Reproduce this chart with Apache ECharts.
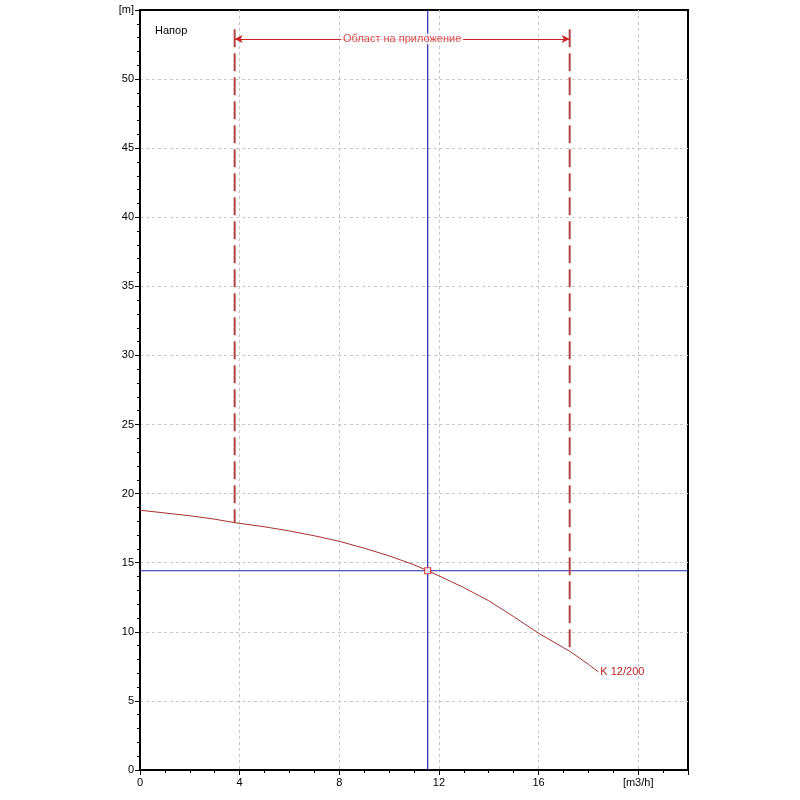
<!DOCTYPE html>
<html>
<head>
<meta charset="utf-8">
<script src="https://cdn.jsdelivr.net/npm/echarts@6/dist/echarts.min.js"></script>
<style>
    html, body {margin: 0; padding: 0; background: #fff;}
    #main {width: 800px; height: 800px;}
</style>
</head>
<body>
<div id="main"></div>
<script>
    // характеристика насоса K 12/200
    var curveQ = [0, 1, 2, 3, 3.8, 5, 6, 7, 8, 9, 10, 11, 11.55, 12, 13, 14, 15, 16, 17, 17.25, 18, 18.4];
    var curveH = [18.8, 18.6, 18.4, 18.15, 17.9, 17.6, 17.3, 16.95, 16.55, 16.05, 15.5, 14.85, 14.42, 14.05, 13.2, 12.25, 11.1, 9.9, 8.85, 8.6, 7.65, 7.1];
    // работна точка
    var workQ = 11.55;
    var workH = 14.42;
    // област на приложение
    var rangeQ = [3.8, 17.25];
    var rangeH = [17.9, 8.6];
    var rangeTop = 53.6;
    var arrowH = 52.9;
    var xTicks = [0, 4, 8, 12, 16, 20];

    var curveData = [];
    for (var i = 0; i < curveQ.length; i++) {
        curveData.push([curveQ[i], curveH[i]]);
    }

    var labelFont = 'Liberation Sans';
    var redDash = '#b04444';
    var blue = '#2626aa';

    var myChart = echarts.init(document.getElementById('main'));

    var option = {
        animation: false,
        backgroundColor: '#fff',
        title: {
            text: 'Напор',
            left: 150,
            top: 20,
            textStyle: {fontSize: 11, fontWeight: 'normal', color: '#000', fontFamily: labelFont}
        },
        grid: {
            left: 140,
            right: 112,
            top: 10,
            bottom: 30,
            show: true,
            borderColor: '#000',
            borderWidth: 2
        },
        xAxis: [
            {
                type: 'value',
                position: 'bottom',
                min: 0,
                max: 22,
                interval: 4,
                axisLine: {onZero: false, lineStyle: {color: '#000', width: 2}},
                axisTick: {length: 5, lineStyle: {color: '#000'}},
                axisLabel: {
                    color: '#000',
                    fontSize: 11,
                    fontFamily: labelFont,
                    margin: 7,
                    formatter: function (v) {
                        if (v == 20) return '[m3/h]';
                        if (xTicks.indexOf(v) < 0) return '';
                        return v;
                    }
                },
                splitLine: {show: true, showMinLine: false, showMaxLine: false, lineStyle: {color: '#c8c8c8', type: [3, 3]}}
            },
            {
                // мелки деления
                type: 'value',
                position: 'bottom',
                min: 0,
                max: 22,
                interval: 1,
                axisLine: {show: false},
                axisTick: {length: 3, lineStyle: {color: '#000'}},
                axisLabel: {show: false},
                splitLine: {show: false}
            }
        ],
        yAxis: {
            type: 'value',
            min: 0,
            max: 55,
            interval: 5,
            axisLine: {onZero: false, lineStyle: {color: '#000', width: 2}},
            axisTick: {length: 5, lineStyle: {color: '#000'}},
            minorTick: {show: true, splitNumber: 5, length: 3, lineStyle: {color: '#000'}},
            axisLabel: {
                color: '#000',
                fontSize: 11,
                fontFamily: labelFont,
                margin: 6,
                formatter: function (v) {
                    if (v == 55) return '[m]';
                    return v;
                }
            },
            splitLine: {show: true, showMinLine: false, showMaxLine: false, lineStyle: {color: '#c8c8c8', type: [3, 3]}}
        },
        series: [
            {
                // вертикала на работната точка
                type: 'line',
                showSymbol: false,
                silent: true,
                data: [[workQ, 0], [workQ, 55]],
                lineStyle: {color: blue, width: 1.2},
                z: 2
            },
            {
                // хоризонтала на работната точка
                type: 'line',
                showSymbol: false,
                silent: true,
                data: [[0, workH], [22, workH]],
                lineStyle: {color: blue, width: 1.2},
                z: 2
            },
            {
                name: 'K 12/200',
                type: 'line',
                smooth: false,
                showSymbol: false,
                data: curveData,
                lineStyle: {color: '#a83030', width: 1},
                endLabel: {
                    show: true,
                    formatter: 'K 12/200',
                    color: '#c02424',
                    fontSize: 11,
                    fontFamily: labelFont,
                    distance: 2
                },
                z: 3
            },
            {
                type: 'line',
                showSymbol: false,
                data: [[rangeQ[0], rangeTop], [rangeQ[0], rangeH[0]]],
                lineStyle: {color: redDash, width: 2, type: [18, 6]},
                z: 2
            },
            {
                type: 'line',
                showSymbol: false,
                data: [[rangeQ[1], rangeTop], [rangeQ[1], rangeH[1]]],
                lineStyle: {color: redDash, width: 2, type: [18, 6]},
                markLine: {
                    silent: true,
                    symbol: ['arrow', 'arrow'],
                    symbolSize: [6, 8],
                    label: {show: false},
                    lineStyle: {color: '#cc2222', width: 1, type: 'solid'},
                    data: [
                        [{coord: [rangeQ[0], arrowH]}, {coord: [rangeQ[1], arrowH]}]
                    ]
                },
                z: 2
            },
            {
                type: 'scatter',
                data: [[(rangeQ[0] + rangeQ[1]) / 2, arrowH]],
                symbolSize: 0,
                label: {
                    show: true,
                    position: 'inside',
                    formatter: 'Област на приложение',
                    color: '#cc2222',
                    fontSize: 11,
                    fontFamily: labelFont,
                    backgroundColor: '#fff',
                    padding: [0, 2]
                },
                z: 5
            },
            {
                type: 'scatter',
                data: [[workQ, workH]],
                symbol: 'rect',
                symbolSize: 6,
                itemStyle: {color: '#fff', borderColor: '#d02020', borderWidth: 1.2},
                z: 6
            }
        ]
    };

    myChart.setOption(option);
</script>
</body>
</html>
